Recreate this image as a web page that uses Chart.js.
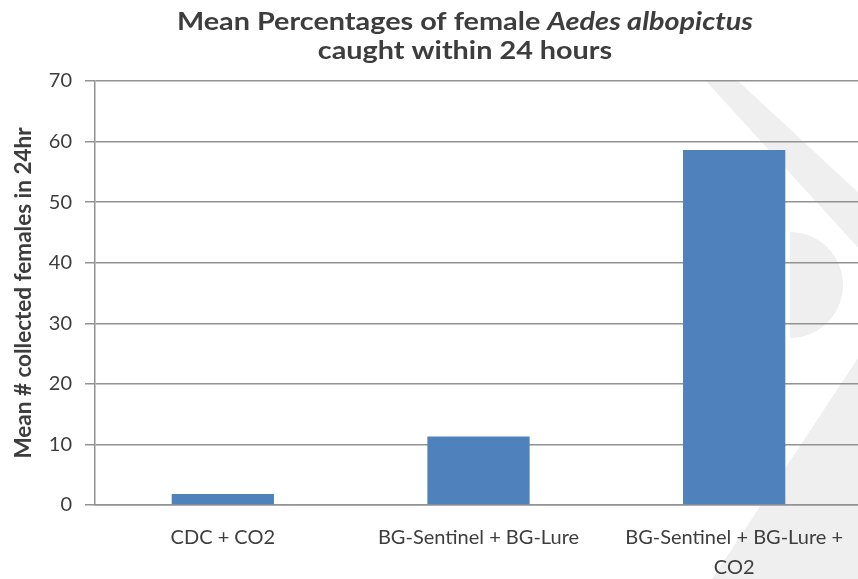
<!DOCTYPE html>
<html>
<head>
<meta charset="utf-8">
<script src="https://cdn.jsdelivr.net/npm/chart.js@4/dist/chart.umd.min.js"></script>
<style>
  html, body { margin: 0; padding: 0; background: #ffffff; overflow: hidden; }
  #wrap { width: 862px; height: 579px; position: relative; }
</style>
</head>
<body>
<div id="wrap"><canvas id="c" width="862" height="579"></canvas></div>
<script>
// ---- data ----
const categories = ['CDC + CO2', 'BG-Sentinel + BG-Lure', ['BG-Sentinel + BG-Lure +', 'CO2']];
const meanFemales = [1.8, 11.3, 58.6];
const yTicks = [0, 10, 20, 30, 40, 50, 60, 70];
const titleLine1 = [
  { text: 'Mean Percentages of female ', italic: false },
  { text: 'Aedes albopictus', italic: true }
];
const titleLine2 = [{ text: 'caught within 24 hours', italic: false }];
const yAxisTitle = 'Mean # collected females in 24hr';

const FONT = 'Lato, "Open Sans", sans-serif';
const TEXT = '#3d3d3d';
const GRID = '#929292';

// faint background watermark shapes
const watermarkPlugin = {
  id: 'watermark',
  beforeDraw(chart) {
    const ctx = chart.ctx;
    ctx.save();
    ctx.fillStyle = '#efefef';
    ctx.beginPath();
    ctx.moveTo(705, 80); ctx.lineTo(737, 80); ctx.lineTo(862, 196); ctx.lineTo(862, 252);
    ctx.closePath(); ctx.fill();
    ctx.beginPath();
    ctx.arc(790, 285, 53, -Math.PI / 2, Math.PI / 2);
    ctx.closePath(); ctx.fill();
    ctx.beginPath();
    ctx.moveTo(862, 352); ctx.lineTo(862, 579); ctx.lineTo(712, 579);
    ctx.closePath(); ctx.fill();
    ctx.restore();
  }
};

const titlePlugin = {
  id: 'richTitle',
  afterDraw(chart) {
    const ctx = chart.ctx;
    const cx = 465;
    const sx = 1.2;
    const lines = [[titleLine1, 22], [titleLine2, 51]];
    ctx.save();
    ctx.fillStyle = TEXT;
    ctx.textBaseline = 'middle';
    ctx.textAlign = 'left';
    for (const [segs, y] of lines) {
      let total = 0;
      for (const s of segs) {
        ctx.font = (s.italic ? 'italic ' : '') + 'bold 24px ' + FONT;
        total += ctx.measureText(s.text).width;
      }
      ctx.save();
      ctx.translate(cx, y);
      ctx.scale(sx, 1);
      let x = -total / 2;
      for (const s of segs) {
        ctx.font = (s.italic ? 'italic ' : '') + 'bold 24px ' + FONT;
        ctx.fillText(s.text, x, 0);
        x += ctx.measureText(s.text).width;
      }
      ctx.restore();
    }
    ctx.restore();
  }
};

new Chart(document.getElementById('c'), {
  type: 'bar',
  data: {
    labels: categories,
    datasets: [{
      data: meanFemales,
      backgroundColor: '#4F81BD',
      borderWidth: 0,
      barPercentage: 0.4,
      categoryPercentage: 1.0
    }]
  },
  options: {
    responsive: false,
    devicePixelRatio: 1,
    animation: false,
    layout: { padding: { top: 81, left: 0, right: 0, bottom: 0 } },
    plugins: {
      legend: { display: false },
      title: { display: false },
      tooltip: { enabled: false }
    },
    scales: {
      x: {
        grid: { display: false, drawTicks: false },
        border: { display: true, color: GRID, width: 1.5 },
        ticks: {
          color: TEXT,
          font: { family: FONT, size: 20, lineHeight: '30px' },
          padding: 18,
          maxRotation: 0,
          autoSkip: false
        },
        afterFit(scale) { scale.height = 74; }
      },
      y: {
        min: 0,
        max: 70,
        afterBuildTicks(scale) { scale.ticks = yTicks.map(v => ({ value: v })); },
        grid: { color: GRID, lineWidth: 1.5, tickLength: 10, drawTicks: true },
        border: { display: true, color: GRID, width: 1.5 },
        ticks: {
          color: TEXT,
          font: { family: FONT, size: 20 },
          padding: 13
        },
        title: {
          display: true,
          text: yAxisTitle,
          color: TEXT,
          font: { family: FONT, size: 22.5, weight: 'bold', lineHeight: 1.2 },
          padding: { top: 10, bottom: 0 }
        },
        afterFit(scale) { scale.width = 95; }
      }
    }
  },
  plugins: [watermarkPlugin, titlePlugin]
});
</script>
</body>
</html>
